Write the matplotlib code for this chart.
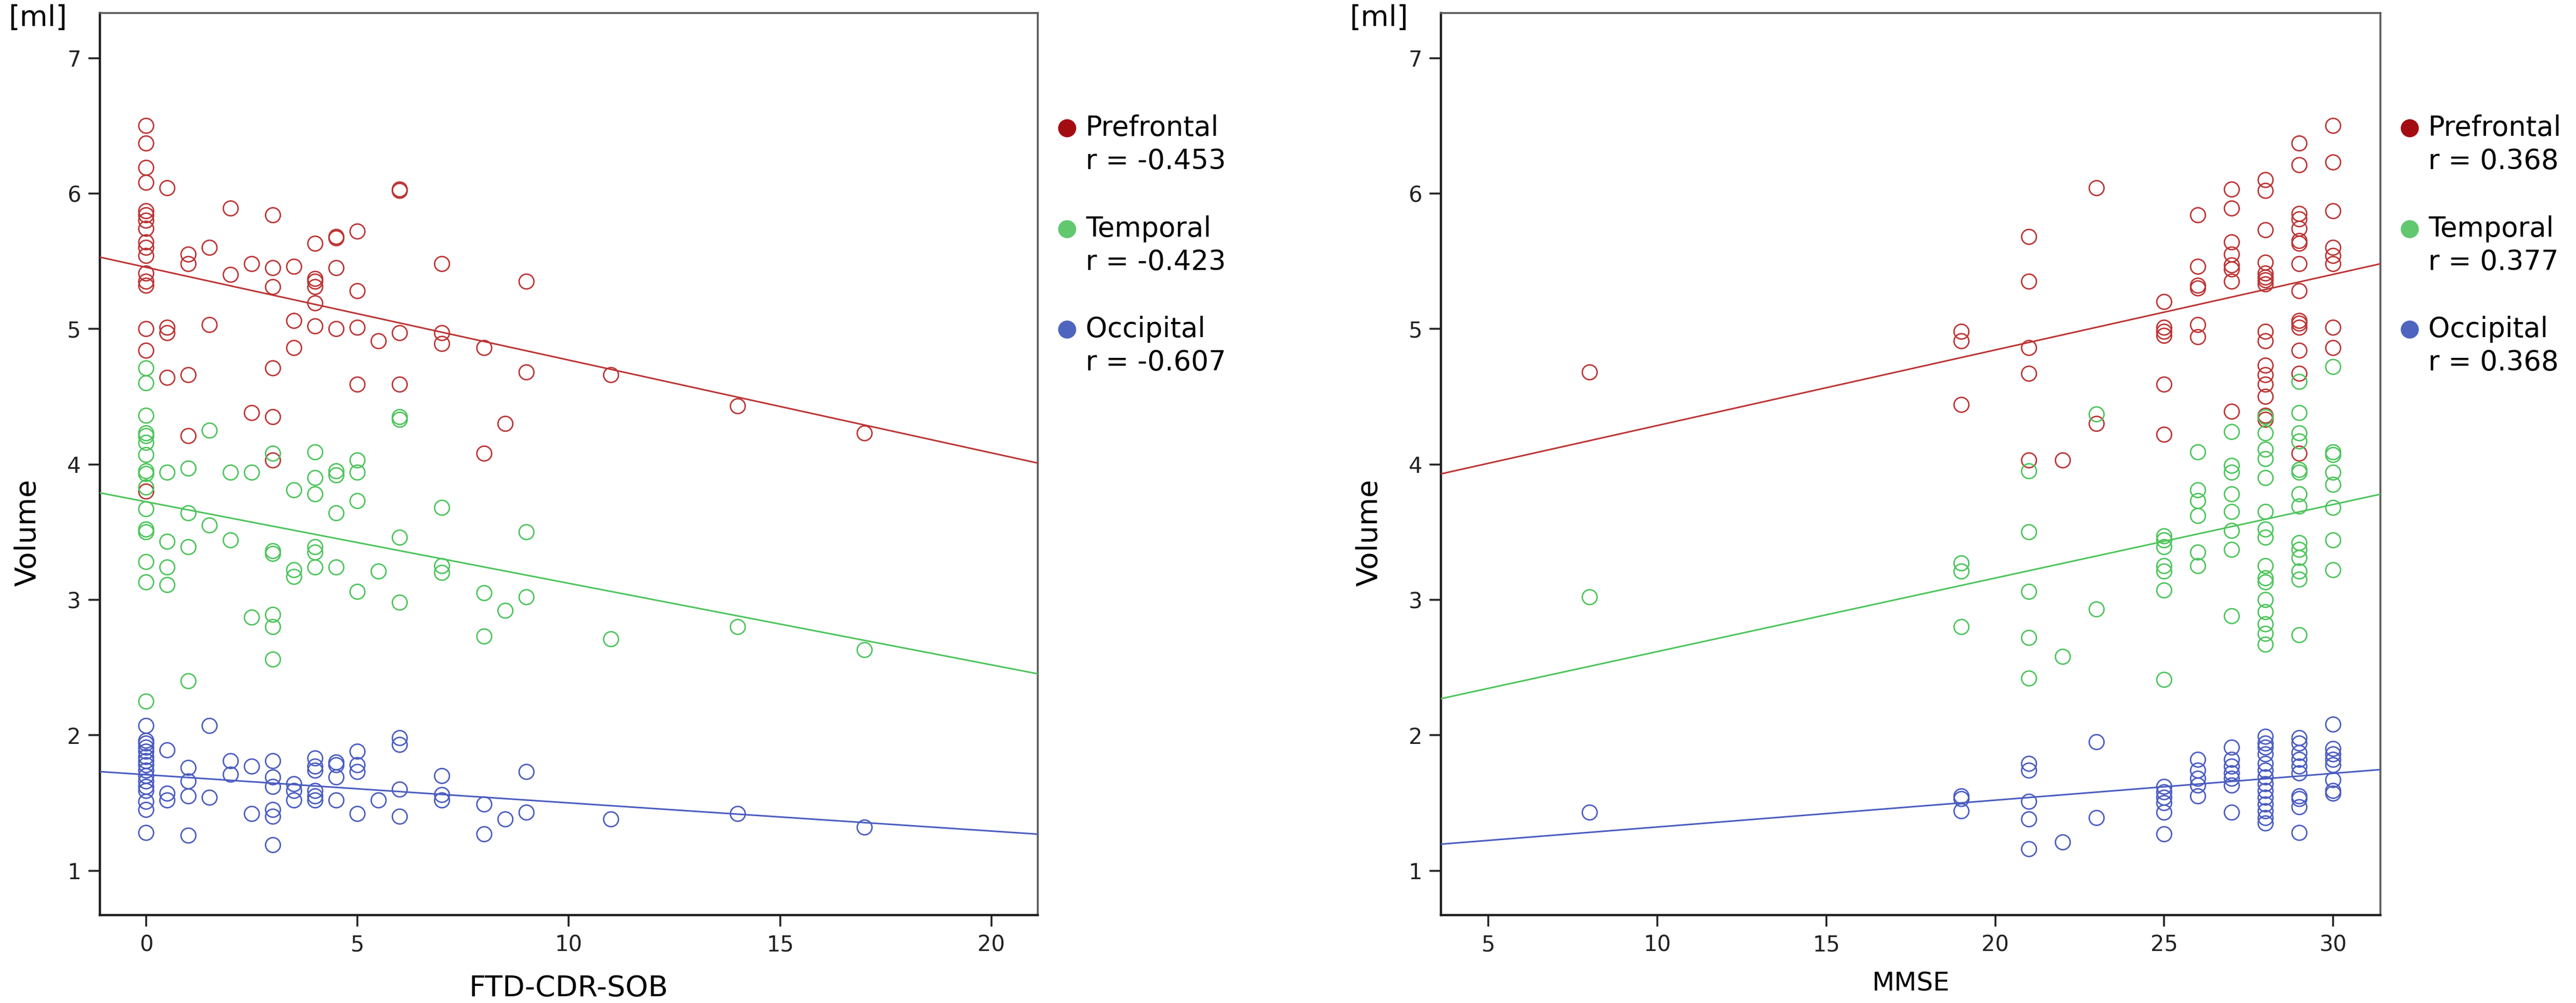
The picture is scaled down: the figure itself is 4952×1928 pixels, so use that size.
import numpy as np
import matplotlib
matplotlib.use("Agg")
import matplotlib.pyplot as plt

# volumes per score value (one dict per region and panel)
cdr_prefrontal = {
    0: [6.50, 6.37, 6.19, 6.08, 5.87, 5.84, 5.80, 5.74, 5.64, 5.60, 5.54, 5.41, 5.35, 5.32, 5.00, 4.84, 3.80],
    0.5: [6.04, 5.01, 4.97, 4.64], 1: [5.55, 5.48, 4.66, 4.21], 1.5: [5.60, 5.03],
    2: [5.89, 5.40], 2.5: [5.48, 4.38], 3: [5.84, 5.45, 5.31, 4.71, 4.35, 4.03],
    3.5: [5.46, 5.06, 4.86], 4: [5.63, 5.37, 5.35, 5.31, 5.19, 5.02],
    4.5: [5.68, 5.67, 5.45, 5.00], 5: [5.72, 5.28, 5.01, 4.59], 5.5: [4.91],
    6: [6.03, 6.02, 4.97, 4.59], 7: [5.48, 4.97, 4.89], 8: [4.86, 4.08], 8.5: [4.30],
    9: [5.35, 4.68], 11: [4.66], 14: [4.43], 17: [4.23],
}
cdr_temporal = {
    0: [4.71, 4.60, 4.36, 4.23, 4.21, 4.16, 4.07, 3.95, 3.93, 3.83, 3.67, 3.52, 3.50, 3.28, 3.13, 2.25],
    0.5: [3.94, 3.43, 3.24, 3.11], 1: [3.97, 3.64, 3.39, 2.40], 1.5: [4.25, 3.55],
    2: [3.94, 3.44], 2.5: [3.94, 2.87], 3: [4.08, 3.36, 3.34, 2.89, 2.80, 2.56],
    3.5: [3.81, 3.22, 3.17], 4: [4.09, 3.90, 3.78, 3.39, 3.35, 3.24],
    4.5: [3.95, 3.92, 3.64, 3.24], 5: [4.03, 3.94, 3.73, 3.06], 5.5: [3.21],
    6: [4.35, 4.33, 3.46, 2.98], 7: [3.68, 3.25, 3.20], 8: [3.05, 2.73], 8.5: [2.92],
    9: [3.50, 3.02], 11: [2.71], 14: [2.80], 17: [2.63],
}
cdr_occipital = {
    0: [2.07, 1.96, 1.94, 1.91, 1.88, 1.84, 1.81, 1.78, 1.74, 1.70, 1.66, 1.62, 1.59, 1.51, 1.45, 1.28],
    0.5: [1.89, 1.57, 1.52], 1: [1.76, 1.66, 1.55, 1.26], 1.5: [2.07, 1.54],
    2: [1.81, 1.71], 2.5: [1.77, 1.42], 3: [1.81, 1.69, 1.62, 1.45, 1.40, 1.19],
    3.5: [1.64, 1.59, 1.52], 4: [1.83, 1.77, 1.74, 1.59, 1.55, 1.52],
    4.5: [1.80, 1.78, 1.69, 1.52], 5: [1.88, 1.78, 1.73, 1.42], 5.5: [1.52],
    6: [1.98, 1.93, 1.60, 1.40], 7: [1.70, 1.56, 1.52], 8: [1.49, 1.27], 8.5: [1.38],
    9: [1.73, 1.43], 11: [1.38], 14: [1.42], 17: [1.32],
}

mmse_prefrontal = {
    8: [4.68], 19: [4.98, 4.91, 4.44], 21: [5.68, 5.35, 4.86, 4.67, 4.03], 22: [4.03],
    23: [6.04, 4.30], 25: [5.20, 5.01, 4.98, 4.95, 4.59, 4.22],
    26: [5.84, 5.46, 5.32, 5.30, 5.03, 4.94],
    27: [6.03, 5.89, 5.64, 5.55, 5.47, 5.44, 5.35, 4.39],
    28: [6.10, 6.02, 5.73, 5.49, 5.41, 5.38, 5.36, 5.33, 4.98, 4.91, 4.73, 4.66, 4.59, 4.50, 4.36, 4.33],
    29: [6.37, 6.21, 5.85, 5.81, 5.74, 5.65, 5.63, 5.48, 5.28, 5.06, 5.04, 5.01, 4.84, 4.67, 4.08],
    30: [6.50, 6.23, 5.87, 5.60, 5.54, 5.48, 5.01, 4.86],
}
mmse_temporal = {
    8: [3.02], 19: [3.27, 3.21, 2.80], 21: [3.95, 3.50, 3.06, 2.72, 2.42], 22: [2.58],
    23: [4.37, 2.93], 25: [3.47, 3.44, 3.39, 3.25, 3.21, 3.07, 2.41],
    26: [4.09, 3.81, 3.73, 3.62, 3.35, 3.25],
    27: [4.24, 3.99, 3.94, 3.78, 3.65, 3.51, 3.37, 2.88],
    28: [4.35, 4.23, 4.11, 4.04, 3.90, 3.65, 3.52, 3.46, 3.25, 3.16, 3.13, 3.00, 2.91, 2.82, 2.75, 2.67],
    29: [4.61, 4.38, 4.23, 4.17, 3.96, 3.94, 3.78, 3.69, 3.42, 3.37, 3.31, 3.21, 3.15, 2.74],
    30: [4.72, 4.09, 4.07, 3.94, 3.85, 3.68, 3.44, 3.22],
}
mmse_occipital = {
    8: [1.43], 19: [1.55, 1.53, 1.44], 21: [1.79, 1.74, 1.51, 1.38, 1.16], 22: [1.21],
    23: [1.95, 1.39], 25: [1.62, 1.58, 1.54, 1.50, 1.43, 1.27],
    26: [1.82, 1.74, 1.68, 1.63, 1.55],
    27: [1.91, 1.82, 1.77, 1.72, 1.68, 1.63, 1.43],
    28: [1.99, 1.94, 1.91, 1.86, 1.79, 1.74, 1.69, 1.64, 1.59, 1.54, 1.49, 1.44, 1.39, 1.35],
    29: [1.98, 1.94, 1.87, 1.82, 1.77, 1.72, 1.55, 1.53, 1.47, 1.28],
    30: [2.08, 1.90, 1.86, 1.82, 1.78, 1.67, 1.59, 1.57],
}

regions = ["Prefrontal", "Temporal", "Occipital"]
cdr_r = ["-0.453", "-0.423", "-0.607"]
mmse_r = ["0.368", "0.377", "0.368"]
# fitted lines (intercept, slope) as drawn in the figure
cdr_fit = [(5.455, -0.0685), (3.724, -0.0602), (1.709, -0.0208)]
mmse_fit = [(3.729, 0.0558), (2.075, 0.0543), (1.125, 0.0198)]

point_colors = ["#BC3434", "#4DC45C", "#4A5CC0"]
legend_colors = ["#A30D12", "#62C86F", "#4E65C0"]


def expand(groups):
    xs, ys = [], []
    for x, vals in groups.items():
        xs += [x] * len(vals)
        ys += vals
    return np.array(xs), np.array(ys)


fig = plt.figure(figsize=(24.76, 9.64), dpi=200)
ax1 = fig.add_axes([0.0387, 0.0877, 0.3642, 0.8994])
ax2 = fig.add_axes([0.5594, 0.0877, 0.3647, 0.8994])

panels = [
    (ax1, [cdr_prefrontal, cdr_temporal, cdr_occipital], cdr_fit, cdr_r,
     (-1.1, 21.1), [0, 5, 10, 15, 20], "FTD-CDR-SOB", 20, -0.0813),
    (ax2, [mmse_prefrontal, mmse_temporal, mmse_occipital], mmse_fit, mmse_r,
     (3.6, 31.4), [5, 10, 15, 20, 25, 30], "MMSE", 18, -0.076),
]

for ax, groups, fits, rvals, xlim, xticks, xlabel, xl_size, xl_y in panels:
    ax.set_xlim(*xlim)
    ax.set_ylim(0.673, 7.333)
    for g, (b0, b1), col in zip(groups, fits, point_colors):
        x, y = expand(g)
        ax.scatter(x, y, s=105, facecolors="none", edgecolors=col, linewidths=1.0, zorder=2)
        xs = np.array(xlim)
        ax.plot(xs, b0 + b1 * xs, color=col, lw=1.1, zorder=3)

    ax.set_xticks(xticks)
    ax.set_yticks([1, 2, 3, 4, 5, 6, 7])
    ax.tick_params(direction="out", length=8, width=1.3, labelsize=15, pad=5,
                   colors="#222222", top=False, right=False)
    for side in ["left", "bottom"]:
        ax.spines[side].set_linewidth(1.6)
        ax.spines[side].set_color("#1e1e1e")
    for side in ["top", "right"]:
        ax.spines[side].set_linewidth(1.3)
        ax.spines[side].set_color("#5a5a5a")

    ax.set_ylabel("Volume", fontsize=20, va="center")
    ax.yaxis.set_label_coords(-0.0765, 0.424)
    ax.set_xlabel(xlabel, fontsize=xl_size, va="center")
    ax.xaxis.set_label_coords(0.5, xl_y)
    ax.text(-0.066, 0.994, "[ml]", transform=ax.transAxes, fontsize=20,
            ha="center", va="center")

    # legend drawn by hand so the dot sits next to the first line
    for i, (name, r, lc) in enumerate(zip(regions, rvals, legend_colors)):
        y0 = 0.8725 - i * 0.1117
        ax.plot([1.031], [y0], "o", ms=11.5, color=lc, transform=ax.transAxes,
                clip_on=False)
        ax.text(1.051, y0, name, transform=ax.transAxes,
                fontsize=19, va="center", ha="left")
        ax.text(1.051, y0 - 0.0369, f"r = {r}", transform=ax.transAxes,
                fontsize=19, va="center", ha="left")

fig.savefig("out.png", dpi=200)
